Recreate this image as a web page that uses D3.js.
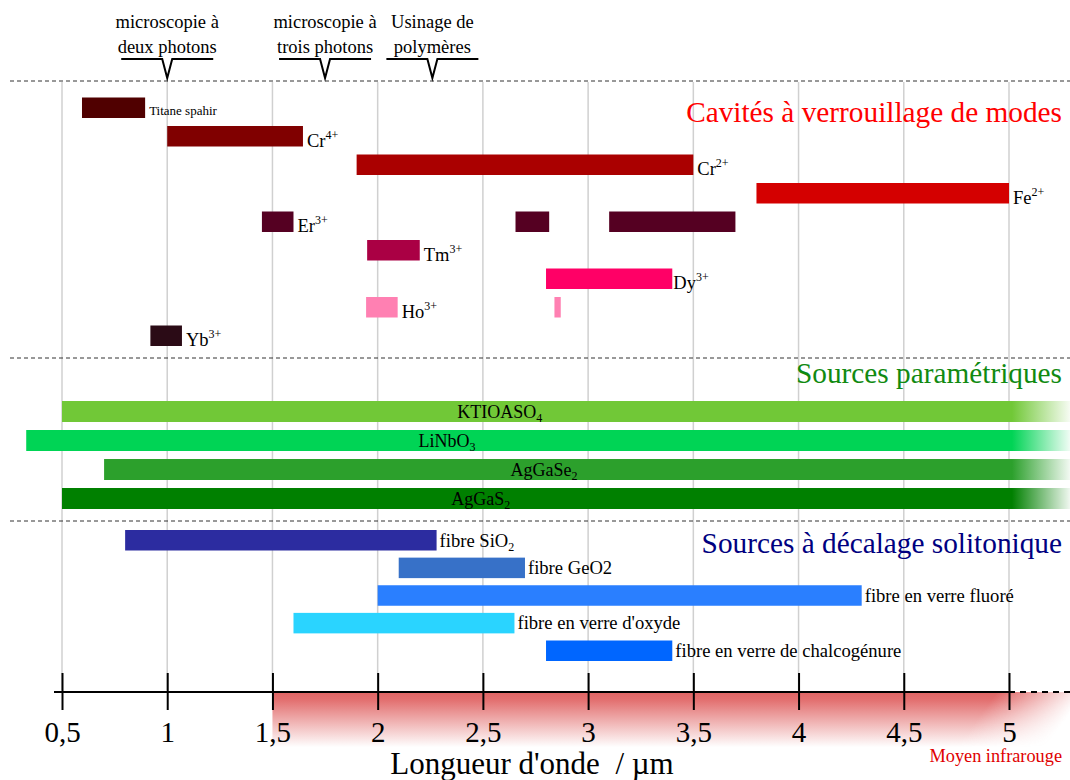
<!DOCTYPE html>
<html>
<head>
<meta charset="utf-8">
<script src="https://cdn.jsdelivr.net/npm/d3@7"></script>
<style>
  body { margin: 0; background: #fff; }
  svg { display: block; font-family: "Liberation Serif", "Times New Roman", serif; }
</style>
</head>
<body>
<svg id="chart" width="1070" height="780"></svg>
<script>
// axis
const tickValues = [0.5, 1, 1.5, 2, 2.5, 3, 3.5, 4, 4.5, 5];
const tickLabels = ["0,5", "1", "1,5", "2", "2,5", "3", "3,5", "4", "4,5", "5"];

// applications shown above the chart
const applicationLine1 = ["microscopie à", "microscopie à", "Usinage de"];
const applicationLine2 = ["deux photons", "trois photons", "polymères"];
const applicationAt = [1.0, 1.75, 2.26];

// mode-locked cavities (µm)
const ionNames = ["Titane spahir", "Cr", "Cr", "Fe", "Er", "", "", "Tm", "Dy", "Ho", "", "Yb"];
const ionCharge = ["", "4+", "2+", "2+", "3+", "", "", "3+", "3+", "3+", "", "3+"];
const ionFrom = [0.595, 1.0, 1.9, 3.8, 1.45, 2.655, 3.1, 1.95, 2.8, 1.945, 2.84, 0.92];
const ionTo = [0.895, 1.645, 3.5, 5.0, 1.6, 2.815, 3.7, 2.2, 3.4, 2.095, 2.87, 1.07];
const ionRow = [0, 1, 2, 3, 4, 4, 4, 5, 6, 7, 7, 8];
const ionColors = ["#500000", "#800000", "#aa0000", "#d40000", "#550022", "#550022", "#550022",
                   "#aa0044", "#ff0066", "#ff80b2", "#ff80b2", "#2b0b16"];

// parametric sources (µm), continuing past 5 µm
const crystalNames = ["KTIOASO", "LiNbO", "AgGaSe", "AgGaS"];
const crystalSub = ["4", "3", "2", "2"];
const crystalFrom = [0.5, 0.33, 0.7, 0.5];
const crystalTo = [5, 5, 5, 5];
const crystalLabelAt = [2.58, 2.33, 2.79, 2.49];
const crystalColors = ["#71c837", "#00d455", "#2ca02c", "#008000"];

// soliton self-frequency shift sources (µm)
const fibreNames = ["fibre SiO", "fibre GeO2", "fibre en verre fluoré", "fibre en verre d'oxyde", "fibre en verre de chalcogénure"];
const fibreSub = ["2", "", "", "", ""];
const fibreFrom = [0.8, 2.1, 2.0, 1.6, 2.8];
const fibreTo = [2.28, 2.7, 4.3, 2.65, 3.4];
const fibreColors = ["#2c2ca0", "#3771c8", "#2a7fff", "#2ad4ff", "#0066ff"];

const width = 1070, height = 780;
const svg = d3.select("#chart");
const defs = svg.append("defs");

const x = d3.scaleLinear().domain([0.5, 5]).range([62, 1009]);
const xMax = width;

const ionY = d3.scaleLinear().domain([0, 8]).range([97.5, 325.5]);
const crystalY = d3.scaleLinear().domain([0, 3]).range([401, 488]);
const fibreY = d3.scaleLinear().domain([0, 4]).range([530, 640.5]);
const barH = 20.5;

// grid
svg.append("g")
  .selectAll("line")
  .data(tickValues)
  .enter()
  .append("line")
  .attr("x1", d => x(d)).attr("x2", d => x(d))
  .attr("y1", 82).attr("y2", 690)
  .attr("stroke", "#d0d0d0")
  .attr("stroke-width", 1.5);

// dashed separators
svg.append("g")
  .selectAll("line")
  .data([81, 358, 521])
  .enter()
  .append("line")
  .attr("x1", 10).attr("x2", width)
  .attr("y1", d => d).attr("y2", d => d)
  .attr("stroke", "#333")
  .attr("stroke-width", 1)
  .attr("stroke-dasharray", "4,3");

// applications
const app = svg.append("g").selectAll("g")
  .data(applicationAt)
  .enter()
  .append("g");
app.append("text")
  .attr("x", d => x(d)).attr("y", 28)
  .attr("text-anchor", "middle").attr("font-size", 18.5)
  .text((d, i) => applicationLine1[i]);
app.append("text")
  .attr("x", d => x(d)).attr("y", 53)
  .attr("text-anchor", "middle").attr("font-size", 18.5)
  .text((d, i) => applicationLine2[i]);
app.append("path")
  .attr("d", d => {
    const c = x(d);
    return "M" + (c - 46) + ",59H" + (c - 5) + "L" + c + ",78L" + (c + 5) + ",59H" + (c + 46);
  })
  .attr("fill", "none")
  .attr("stroke", "#000")
  .attr("stroke-width", 2);

// group titles
const titles = [
  { t: "Cavités à verrouillage de modes", y: 122, c: "#ff0000" },
  { t: "Sources paramétriques", y: 383, c: "#118a11" },
  { t: "Sources à décalage solitonique", y: 553, c: "#000080" }
];
svg.append("g").selectAll("text")
  .data(titles)
  .enter()
  .append("text")
  .attr("x", 1062).attr("y", d => d.y)
  .attr("text-anchor", "end")
  .attr("font-size", 29.3)
  .attr("fill", d => d.c)
  .text(d => d.t);

// mode-locked cavities
const ions = svg.append("g");
ions.selectAll("rect")
  .data(ionFrom)
  .enter()
  .append("rect")
  .attr("x", d => x(d))
  .attr("y", (d, i) => ionY(ionRow[i]))
  .attr("width", (d, i) => x(ionTo[i]) - x(d))
  .attr("height", barH)
  .attr("fill", (d, i) => ionColors[i]);

const ionLabels = ions.selectAll("text")
  .data(ionFrom.map((d, i) => i).filter(i => ionNames[i] !== ""))
  .enter()
  .append("text")
  .attr("x", i => x(ionTo[i]) + (i === 8 ? 1 : 4))
  .attr("y", i => ionY(ionRow[i]) + barH - (i === 0 ? 3 : 0))
  .attr("font-size", i => i === 0 ? 13 : 18.5);
ionLabels.append("tspan").text(i => ionNames[i]);
ionLabels.append("tspan")
  .attr("font-size", 12)
  .attr("dy", -8)
  .text(i => ionCharge[i]);

// parametric sources
crystalColors.forEach((c, i) => {
  const g = defs.append("linearGradient")
    .attr("id", "fade" + i)
    .attr("gradientUnits", "userSpaceOnUse")
    .attr("x1", x(5) + 3).attr("x2", xMax)
    .attr("y1", 0).attr("y2", 0);
  g.append("stop").attr("offset", 0).attr("stop-color", c).attr("stop-opacity", 1);
  g.append("stop").attr("offset", 1).attr("stop-color", c).attr("stop-opacity", 0.06);
});

const crystals = svg.append("g");
crystals.selectAll("rect")
  .data(crystalFrom)
  .enter()
  .append("rect")
  .attr("x", d => x(d))
  .attr("y", (d, i) => crystalY(i))
  .attr("width", d => xMax - x(d))
  .attr("height", 21)
  .attr("fill", (d, i) => "url(#fade" + i + ")");

const crystalLabels = crystals.selectAll("text")
  .data(crystalLabelAt)
  .enter()
  .append("text")
  .attr("x", d => x(d))
  .attr("y", (d, i) => crystalY(i) + 17)
  .attr("text-anchor", "middle")
  .attr("font-size", 18);
crystalLabels.append("tspan").text((d, i) => crystalNames[i]);
crystalLabels.append("tspan").attr("font-size", 12).attr("dy", 4).text((d, i) => crystalSub[i]);

// soliton sources
const fibres = svg.append("g");
fibres.selectAll("rect")
  .data(fibreFrom)
  .enter()
  .append("rect")
  .attr("x", d => x(d))
  .attr("y", (d, i) => fibreY(i))
  .attr("width", (d, i) => x(fibreTo[i]) - x(d))
  .attr("height", barH)
  .attr("fill", (d, i) => fibreColors[i]);

const fibreLabels = fibres.selectAll("text")
  .data(fibreTo)
  .enter()
  .append("text")
  .attr("x", d => x(d) + 3)
  .attr("y", (d, i) => fibreY(i) + barH - 4)
  .attr("font-size", 18.6);
fibreLabels.append("tspan").text((d, i) => fibreNames[i]);
fibreLabels.append("tspan").attr("font-size", 12).attr("dy", 4).text((d, i) => fibreSub[i]);

// mid-infrared band under the axis
const vGrad = defs.append("linearGradient")
  .attr("id", "irGrad").attr("x1", 0).attr("x2", 0).attr("y1", 0).attr("y2", 1);
vGrad.append("stop").attr("offset", 0).attr("stop-color", "#e06464").attr("stop-opacity", 1);
vGrad.append("stop").attr("offset", 0.15).attr("stop-color", "#e06464").attr("stop-opacity", 0.92);
vGrad.append("stop").attr("offset", 1).attr("stop-color", "#e06464").attr("stop-opacity", 0);

const mGrad = defs.append("linearGradient")
  .attr("id", "irMaskGrad")
  .attr("gradientUnits", "userSpaceOnUse")
  .attr("x1", 1000).attr("y1", 688).attr("x2", 1058).attr("y2", 730);
mGrad.append("stop").attr("offset", 0).attr("stop-color", "#fff");
mGrad.append("stop").attr("offset", 1).attr("stop-color", "#000");
defs.append("mask").attr("id", "irMask")
  .append("rect")
  .attr("x", 0).attr("y", 600).attr("width", width).attr("height", 180)
  .attr("fill", "url(#irMaskGrad)");

svg.append("rect")
  .attr("x", x(1.5)).attr("y", 692)
  .attr("width", xMax - x(1.5)).attr("height", 55)
  .attr("fill", "url(#irGrad)")
  .attr("mask", "url(#irMask)");

svg.append("text")
  .attr("x", 1062).attr("y", 762)
  .attr("text-anchor", "end")
  .attr("font-size", 18.3)
  .attr("fill", "#e00000")
  .text("Moyen infrarouge");

// axis
svg.append("line")
  .attr("x1", 54).attr("x2", x(5))
  .attr("y1", 692).attr("y2", 692)
  .attr("stroke", "#000").attr("stroke-width", 2);
svg.append("line")
  .attr("x1", x(5)).attr("x2", xMax)
  .attr("y1", 692).attr("y2", 692)
  .attr("stroke", "#000").attr("stroke-width", 2)
  .attr("stroke-dasharray", "6,5");

const axis = d3.axisBottom(x)
  .tickValues(tickValues)
  .tickFormat((d, i) => tickLabels[i])
  .tickSize(18)
  .tickPadding(0);

const axisG = svg.append("g")
  .attr("transform", "translate(0,692)")
  .call(axis);
axisG.select(".domain").remove();
axisG.selectAll(".tick line")
  .attr("y1", -19).attr("y2", 18)
  .attr("stroke", "#000").attr("stroke-width", 2);
axisG.selectAll(".tick text")
  .attr("y", 50).attr("dy", 0)
  .attr("fill", "#000")
  .attr("font-family", "Liberation Serif, serif")
  .attr("font-size", 29);

svg.append("text")
  .attr("x", 532).attr("y", 774)
  .attr("text-anchor", "middle")
  .attr("font-size", 31)
  .style("white-space", "pre")
  .text("Longueur d'onde  / µm");
</script>
</body>
</html>
